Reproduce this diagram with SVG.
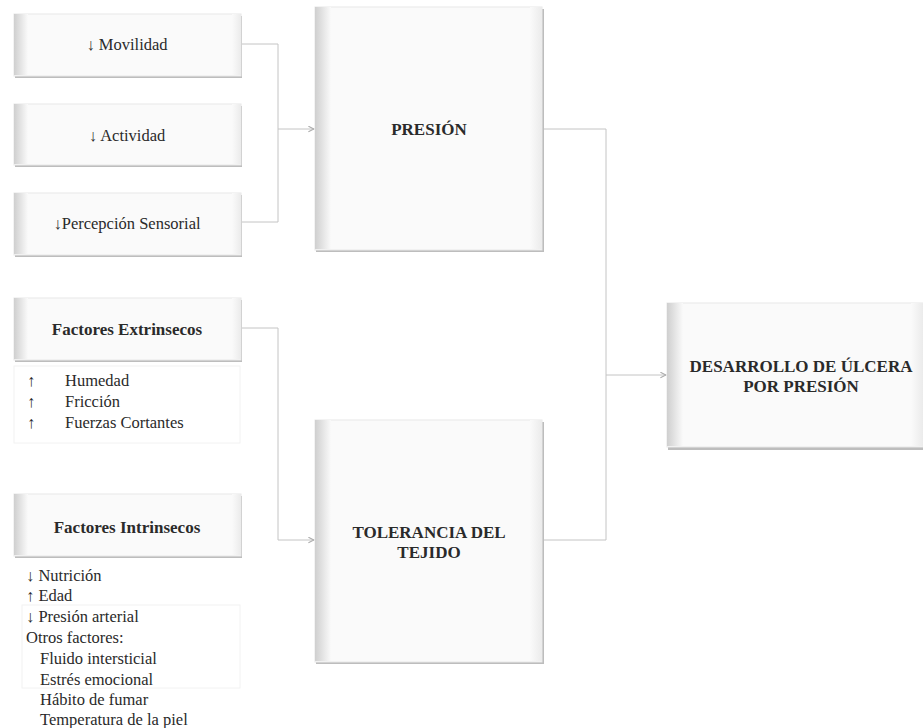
<svg xmlns="http://www.w3.org/2000/svg" width="923" height="728" viewBox="0 0 923 728">
<defs>
<linearGradient id="lb" x1="0" y1="0" x2="1" y2="0">
<stop offset="0" stop-color="#cfcfcf"/><stop offset="1" stop-color="#fafafa"/>
</linearGradient>
<linearGradient id="rb" x1="0" y1="0" x2="1" y2="0">
<stop offset="0" stop-color="#fafafa"/><stop offset="1" stop-color="#ebebeb"/>
</linearGradient>
<marker id="ar" viewBox="0 0 10 10" refX="9" refY="5" markerWidth="7" markerHeight="7" orient="auto">
<path d="M1,1 L9,5 L1,9" fill="none" stroke="#aaa" stroke-width="1.5"/>
</marker>
</defs>
<style>
.base{fill:#fafafa;stroke:#e8e8e8;stroke-width:1}
.shadow{fill:#bdbdbd}
.lb{fill:url(#lb)}
.rb{fill:url(#rb)}
.t{font-family:'Liberation Serif','Times New Roman',Tinos,'DejaVu Serif',serif;font-size:16.5px;fill:#2a2a2a}
.b{font-weight:bold;font-size:17px}
.c{text-anchor:middle}
.con{fill:none;stroke:#c4c4c4;stroke-width:1}
.frame{fill:none;stroke:#f2f2f2;stroke-width:1}
</style>
<rect width="923" height="728" fill="#ffffff"/>

<g id="connectors">
<path class="con" d="M241,44 H278 V222 H241"/>
<path class="con" d="M278,129 H314" marker-end="url(#ar)"/>
<path class="con" d="M241,328 H278 V540 H314" marker-end="url(#ar)"/>
<path class="con" d="M542,129 H606 V540 H542"/>
<path class="con" d="M606,375 H666" marker-end="url(#ar)"/>
</g>

<g id="movilidad">
<rect class="shadow" x="15" y="16" width="227" height="62"/>
<rect class="base" x="14" y="14" width="227" height="62"/>
<rect class="lb" x="14" y="14" width="14" height="61"/>
<rect class="rb" x="232" y="14" width="9" height="61"/>
<text class="t c" x="127" y="50">↓ Movilidad</text>
</g>

<g id="actividad">
<rect class="shadow" x="15" y="106" width="227" height="61"/>
<rect class="base" x="14" y="104" width="227" height="61"/>
<rect class="lb" x="14" y="104" width="14" height="60"/>
<rect class="rb" x="232" y="104" width="9" height="60"/>
<text class="t c" x="127" y="141">↓ Actividad</text>
</g>

<g id="percepcion">
<rect class="shadow" x="15" y="195" width="227" height="62"/>
<rect class="base" x="14" y="193" width="227" height="62"/>
<rect class="lb" x="14" y="193" width="14" height="61"/>
<rect class="rb" x="232" y="193" width="9" height="61"/>
<text class="t c" x="127" y="229">↓Percepción  Sensorial</text>
</g>

<g id="presion">
<rect class="shadow" x="316" y="9" width="228" height="243"/>
<rect class="base" x="315" y="7" width="227" height="243"/>
<rect class="lb" x="315" y="7" width="16" height="242"/>
<rect class="rb" x="530" y="7" width="12" height="242"/>
<text class="t b c" x="429" y="135">PRESIÓN</text>
</g>

<g id="extrinsecos">
<rect class="shadow" x="15" y="300" width="227" height="62"/>
<rect class="base" x="14" y="298" width="227" height="62"/>
<rect class="lb" x="14" y="298" width="14" height="61"/>
<rect class="rb" x="232" y="298" width="9" height="61"/>
<text class="t b c" x="127" y="335">Factores Extrinsecos</text>
</g>

<g id="extrinsecos-lista">
<rect class="frame" x="14" y="366" width="226" height="77"/>
<text class="t" x="27" y="386">↑</text><text class="t" x="65" y="386">Humedad</text>
<text class="t" x="27" y="407">↑</text><text class="t" x="65" y="407">Fricción</text>
<text class="t" x="27" y="428">↑</text><text class="t" x="65" y="428">Fuerzas Cortantes</text>
</g>

<g id="intrinsecos">
<rect class="shadow" x="15" y="496" width="227" height="62"/>
<rect class="base" x="14" y="494" width="227" height="62"/>
<rect class="lb" x="14" y="494" width="14" height="61"/>
<rect class="rb" x="232" y="494" width="9" height="61"/>
<text class="t b c" x="127" y="533">Factores Intrinsecos</text>
</g>

<g id="intrinsecos-lista">
<rect class="frame" x="22" y="605" width="218" height="83"/>
<text class="t" x="26" y="581">↓ Nutrición</text>
<text class="t" x="26" y="601">↑ Edad</text>
<text class="t" x="26" y="622">↓ Presión arterial</text>
<text class="t" x="26" y="643">Otros factores:</text>
<text class="t" x="40" y="664">Fluido intersticial</text>
<text class="t" x="40" y="685">Estrés emocional</text>
<text class="t" x="40" y="705">Hábito de fumar</text>
<text class="t" x="40" y="725">Temperatura de la  piel</text>
</g>

<g id="tolerancia">
<rect class="shadow" x="316" y="422" width="228" height="242"/>
<rect class="base" x="315" y="420" width="227" height="242"/>
<rect class="lb" x="315" y="420" width="16" height="241"/>
<rect class="rb" x="530" y="420" width="12" height="241"/>
<text class="t b c" x="429" y="538">TOLERANCIA DEL</text>
<text class="t b c" x="429" y="558">TEJIDO</text>
</g>

<g id="desarrollo">
<rect class="shadow" x="668" y="305" width="256" height="145"/>
<rect class="base" x="667" y="303" width="256" height="144"/>
<rect class="lb" x="667" y="303" width="16" height="143"/>
<rect class="rb" x="911" y="303" width="12" height="143"/>
<text class="t b c" x="801" y="372">DESARROLLO DE ÚLCERA</text>
<text class="t b c" x="801" y="392">POR PRESIÓN</text>
</g>
</svg>
